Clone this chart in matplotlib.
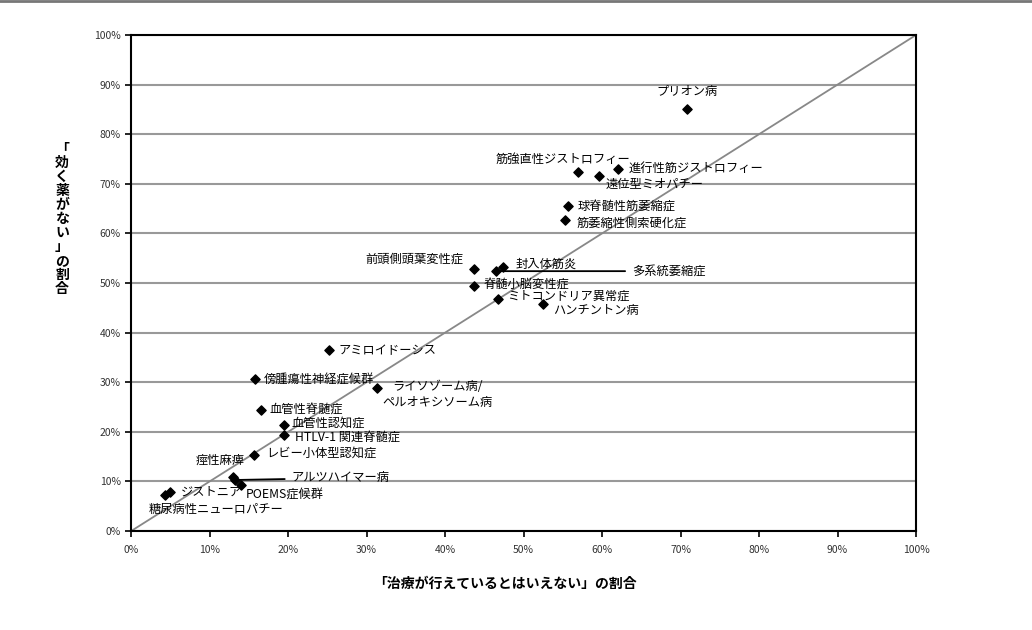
import matplotlib
matplotlib.use('Agg')
import matplotlib.pyplot as plt
from matplotlib.lines import Line2D
from matplotlib.ticker import PercentFormatter

plt.rcParams['font.family'] = ['Noto Sans CJK JP', 'DejaVu Sans']

# data: x = 「治療が行えているとはいえない」の割合, y = 「効く薬がない」の割合 (%)
diseases = ['プリオン病', '筋強直性ジストロフィー', '遠位型ミオパチー', '進行性筋ジストロフィー',
            '球脊髄性筋萎縮症', '筋萎縮性側索硬化症', '前頭側頭葉変性症', '多系統萎縮症',
            '封入体筋炎', '脊髄小脳変性症', 'ミトコンドリア異常症', 'ハンチントン病',
            'アミロイドーシス', '傍腫瘍性神経症候群', 'ライソゾーム病/\nペルオキシソーム病',
            '血管性脊髄症', '血管性認知症', 'HTLV-1 関連脊髄症', 'レビー小体型認知症',
            '痙性麻痺', 'アルツハイマー病', 'POEMS症候群', 'ジストニア', '糖尿病性ニューロパチー']
x_vals = [70.8, 56.9, 59.6, 62.0, 55.7, 55.3, 43.7, 46.5, 47.4, 43.7, 46.8, 52.5,
          25.2, 15.8, 31.3, 16.6, 19.5, 19.5, 15.7, 13.0, 13.2, 14.0, 5.0, 4.3]
y_vals = [85.1, 72.4, 71.6, 73.0, 65.5, 62.7, 52.8, 52.4, 53.2, 49.4, 46.8, 45.8,
          36.5, 30.6, 28.8, 24.4, 21.4, 19.4, 15.3, 10.9, 10.3, 9.3, 7.9, 7.3]

# label offsets (pixels), alignment, leader line
label_pos = {
    'プリオン病': (0, 17, 'center', False),
    '筋強直性ジストロフィー': (-15, 13, 'center', False),
    '遠位型ミオパチー': (7, -8, 'left', False),
    '進行性筋ジストロフィー': (11, 1, 'left', False),
    '球脊髄性筋萎縮症': (9, 0, 'left', False),
    '筋萎縮性側索硬化症': (11, -3, 'left', False),
    '前頭側頭葉変性症': (-11, 10, 'right', False),
    '多系統萎縮症': (136, 0, 'left', True),
    '封入体筋炎': (12, 3, 'left', False),
    '脊髄小脳変性症': (9, 2, 'left', False),
    'ミトコンドリア異常症': (9, 3, 'left', False),
    'ハンチントン病': (10, -7, 'left', False),
    'アミロイドーシス': (10, -1, 'left', False),
    '傍腫瘍性神経症候群': (9, -1, 'left', False),
    'ライソゾーム病/\nペルオキシソーム病': (61, -6, 'center', False),
    '血管性脊髄症': (8, 1, 'left', False),
    '血管性認知症': (7, 2, 'left', False),
    'HTLV-1 関連脊髄症': (11, -2, 'left', False),
    'レビー小体型認知症': (12, 2, 'left', False),
    '痙性麻痺': (12, 17, 'right', False),
    'アルツハイマー病': (57, 2, 'left', True),
    'POEMS症候群': (5, -9, 'left', False),
    'ジストニア': (11, 0, 'left', False),
    '糖尿病性ニューロパチー': (51, -15, 'center', False),
}

fig = plt.figure(figsize=(10.32, 6.30), dpi=100)
ax = fig.add_axes([0.127, 0.157, 0.7606, 0.7874])

ax.set_xlim(0, 100)
ax.set_ylim(0, 100)
ax.set_xticks(range(0, 101, 10))
ax.set_yticks(range(0, 101, 10))
ax.xaxis.set_major_formatter(PercentFormatter(decimals=0))
ax.yaxis.set_major_formatter(PercentFormatter(decimals=0))
ax.tick_params(labelsize=7.5, length=4, width=1.2, colors='black', labelcolor='#333333')
ax.tick_params(axis='x', pad=6)
ax.grid(axis='y', color='#999999', linewidth=1.5)
ax.set_axisbelow(True)
for s in ax.spines.values():
    s.set_linewidth(1.5)
    s.set_color('black')

ax.plot([0, 100], [0, 100], color='#888888', linewidth=1.3, zorder=2)
ax.scatter(x_vals, y_vals, marker='D', s=22, color='black', zorder=3)

for name, x, y in zip(diseases, x_vals, y_vals):
    dx, dy, ha, line = label_pos[name]
    kw = {}
    if line:
        kw['arrowprops'] = dict(arrowstyle='-', color='black', lw=1.3, shrinkA=3, shrinkB=0)
    ax.annotate(name, (x, y), xytext=(dx, dy), textcoords='offset pixels',
                ha=ha, va='center', fontsize=8.8, multialignment='center',
                linespacing=1.3, zorder=4, **kw)

fig.text(505 / 1032, 1 - 584 / 630, '「治療が行えているとはいえない」の割合',
         fontsize=10, fontweight='bold', ha='center', va='center')
ylabel = '\n'.join('「効く薬がない」の割合')
fig.text(62 / 1032, 1 - 219 / 630, ylabel, fontsize=10, fontweight='bold',
         ha='center', va='center', linespacing=1.0)

fig.add_artist(Line2D([0, 1], [0.998, 0.998], color='#777777', linewidth=2))

fig.savefig('out.png', dpi=100)
